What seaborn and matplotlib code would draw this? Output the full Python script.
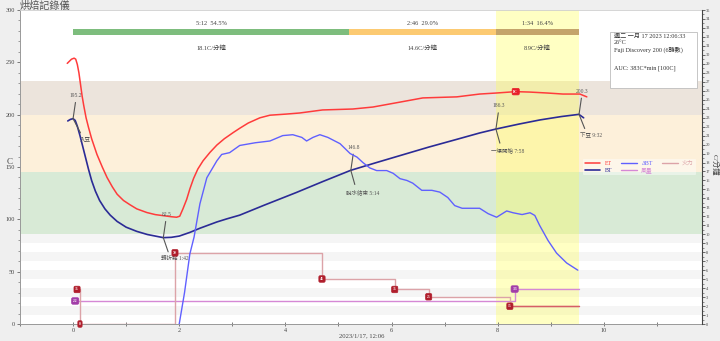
import matplotlib
matplotlib.use("Agg")
import matplotlib.pyplot as plt
import seaborn as sns
from matplotlib.ticker import MultipleLocator
from matplotlib.patches import Rectangle

# ---------------- data ----------------
et_t = [-0.11, -0.07, -0.03, 0.02, 0.05, 0.08, 0.11, 0.14, 0.17, 0.2, 0.245, 0.29, 0.35, 0.45,
        0.55, 0.64, 0.74, 0.83, 0.95, 1.07, 1.2, 1.39, 1.55, 1.7, 1.85, 1.95, 2.01, 2.07, 2.14,
        2.2, 2.27, 2.35, 2.45, 2.58, 2.71, 2.85, 3.02, 3.14, 3.3, 3.52, 3.71, 4.0, 4.27, 4.7,
        5.27, 5.65, 6.16, 6.59, 7.23, 7.66, 7.98, 8.34, 8.6, 8.93, 9.23, 9.55, 9.68]
et = [249, 251, 253, 254, 253, 248, 240, 229, 218, 209, 197, 188, 177, 162,
      150, 140, 131, 124, 118, 114, 110, 106.5, 104.5, 103.5, 102.5, 102, 103, 110, 119,
      129, 139, 148, 156, 164, 171, 177, 183, 187, 192, 197, 199.5, 200.5, 201.6, 204.5,
      205.4, 207.3, 212, 216, 217, 219.7, 220.7, 222, 221.6, 220.7, 219.7, 219.7, 217]

bt_t = [-0.1, -0.05, 0.0, 0.04, 0.08, 0.13, 0.18, 0.23, 0.29, 0.35, 0.42, 0.5, 0.6, 0.7, 0.83,
        1.0, 1.2, 1.4, 1.55, 1.7, 1.85, 2.0, 2.2, 2.39, 2.55, 2.71, 2.9, 3.14, 3.6, 4.2, 4.7,
        5.23, 5.7, 6.2, 6.7, 7.2, 7.66, 7.97, 8.4, 8.8, 9.2, 9.53, 9.62]
bt = [194, 195.5, 196.2, 194.5, 189, 180, 170, 160, 148, 137, 127, 118, 110, 104, 98,
      92.5, 88.5, 85.5, 84, 82.5, 82.8, 84, 87.5, 91.5, 94.5, 97.5, 100.5, 104, 113.5, 125.5,
      136, 146.8, 154, 161.5, 169, 176, 182.5, 186.3, 191, 195, 198.2, 200.3, 197]

ror_t = [2.0, 2.1, 2.2, 2.28, 2.39, 2.52, 2.71, 2.8, 2.95, 3.14, 3.43, 3.71, 3.95, 4.14, 4.31,
         4.4, 4.52, 4.65, 4.8, 5.03, 5.22, 5.35, 5.46, 5.59, 5.72, 5.91, 6.03, 6.16, 6.29, 6.4,
         6.57, 6.76, 6.91, 7.06, 7.19, 7.33, 7.53, 7.66, 7.82, 7.98, 8.17, 8.29, 8.46, 8.61, 8.7,
         8.79, 8.95, 9.11, 9.3, 9.51]
ror = [0, 3.5, 7.8, 9.7, 13.4, 16.3, 18.2, 18.9, 19.1, 19.9, 20.2, 20.4, 21.0, 21.1, 20.8,
       20.4, 20.8, 21.1, 20.8, 20.1, 19.0, 18.6, 18.0, 17.4, 17.1, 17.1, 16.8, 16.2, 16.0, 15.7,
       14.9, 14.9, 14.7, 14.1, 13.2, 12.9, 12.9, 12.9, 12.3, 11.9, 12.6, 12.4, 12.2, 12.4, 12.1,
       11.0, 9.3, 7.9, 6.8, 6.0]

heat_t = [0.075, 0.13, 1.92, 4.69, 6.06, 6.7, 8.23, 9.53]
heat = [33, 0, 68, 43, 33, 26, 17, 17]
heat_box_labels = ["35", "0", "70", "45", "35", "25", "15"]

air_t = [0.04, 8.32, 9.53]
air = [22, 33.4, 33.4]
air_box_labels = ["2.2", "3.3"]

et_mark_t = [8.34]
et_mark_v = [222]
et_mark_labels = ["FC"]

phase_start = [0.0, 5.2, 7.967]
phase_dur = [5.2, 2.767, 1.566]
phase_colors = ["#7dbd7d", "#fcca72", "#c4a46b"]
phase_time_labels = ["5:12  54.5%", "2:46  29.0%", "1:34  16.4%"]
phase_rate_labels = ["18.1C/分鐘", "14.6C/分鐘", "8.9C/分鐘"]

band_low = [200, 145, 85]
band_high = [232, 200, 145]
band_colors = ["#ece4dc", "#fdf0da", "#d8ead6"]
stripe_r = [1, 3, 5, 7, 9]

event_t = [0.0, 1.7, 5.233, 7.967, 9.533]
event_bt = [196.2, 82.5, 146.8, 186.3, 200.3]
event_val_labels = ["195.2", "82.5", "146.8", "186.3", "200.3"]
event_name_labels = ["入豆", "轉折點 1:42", "脫水結束 5:14", "一爆開始 7:58", "下豆 9:32"]

info_lines = ["週二 一月 17 2023 12:06:33", "26°C", "Fuji Discovery 200 (6轉數)", "", "",
              "AUC: 383C*min [100C]"]

# ---------------- style ----------------
sns.set_theme(style="white")
plt.rcParams["font.family"] = ["Liberation Serif", "Noto Sans CJK TC", "DejaVu Sans"]
plt.rcParams["axes.unicode_minus"] = False

fig = plt.figure(figsize=(7.2, 3.41), dpi=100)
fig.patch.set_facecolor("#efefef")
ax = fig.add_axes([20 / 720, 17 / 341, 682 / 720, 314 / 341])
ax.set_facecolor("white")
ax.set_xlim(-1.0, 11.85)
ax.set_ylim(0, 300)

TEMP_PER_ROR = 300 / 35

# background bands
for lo, hi, c in zip(band_low, band_high, band_colors):
    ax.axhspan(lo, hi, color=c, lw=0, zorder=0.1)
for r in stripe_r:
    ax.axhspan(r * TEMP_PER_ROR, (r + 1) * TEMP_PER_ROR, color="#f5f5f5", lw=0, zorder=0.1)

# yellow development span
ax.axvspan(phase_start[2], phase_start[2] + phase_dur[2], color="#ffff55", alpha=0.35, lw=0, zorder=0.2)

# phase bar + texts
ax.barh([279] * 3, phase_dur, left=phase_start, height=5, color=phase_colors, lw=0, zorder=1)
for s, d, tl, rl in zip(phase_start, phase_dur, phase_time_labels, phase_rate_labels):
    ax.text(s + d / 2, 287, tl, ha="center", va="center", fontsize=4.6, color="#444")
    ax.text(s + d / 2, 264, rl, ha="center", va="center", fontsize=4.6, color="#444")

# step lines (air / heat)
sns.lineplot(x=air_t, y=air, ax=ax, color="#d588d5", lw=1.0, drawstyle="steps-post",
             estimator=None, sort=False, zorder=2)
h_air = ax.lines[-1]
sns.lineplot(x=heat_t, y=heat, ax=ax, color="#dca3a8", lw=1.0, drawstyle="steps-post",
             estimator=None, sort=False, zorder=2.1)
h_heat = ax.lines[-1]
sns.lineplot(x=heat_t[-2:], y=heat[-2:], ax=ax, color="#d65f66", lw=1.0, drawstyle="steps-post",
             estimator=None, sort=False, zorder=2.2)

for t, v, lab in zip(heat_t[:-1], heat[:-1], heat_box_labels):
    ax.text(t, v, lab, ha="center", va="center", fontsize=2.6, color="white", fontweight="bold",
            zorder=6, bbox=dict(boxstyle="round,pad=0.35", fc="#b01e2c", ec="#b01e2c", lw=0.5))
for t, v, lab in zip(air_t[:-1], air[:-1], air_box_labels):
    ax.text(t, v, lab, ha="center", va="center", fontsize=2.6, color="white", fontweight="bold",
            zorder=6, bbox=dict(boxstyle="round,pad=0.35", fc="#a23da8", ec="#a23da8", lw=0.5))

# ET & BT
sns.lineplot(x=et_t, y=et, ax=ax, color="#ff3b3b", lw=1.1, estimator=None, zorder=3)
h_et = ax.lines[-1]
sns.lineplot(x=bt_t, y=bt, ax=ax, color="#2b2b96", lw=1.2, estimator=None, zorder=3.1)
h_bt = ax.lines[-1]
for ln in (h_et, h_bt):
    ln.set_solid_joinstyle("round")

for t, v, lab in zip(et_mark_t, et_mark_v, et_mark_labels):
    ax.text(t, v, lab, ha="center", va="center", fontsize=2.6, color="white", fontweight="bold",
            zorder=6, bbox=dict(boxstyle="round,pad=0.35", fc="#e8202a", ec="#e8202a", lw=0.5))

# event annotations
for t, v, vl, nl in zip(event_t, event_bt, event_val_labels, event_name_labels):
    ax.annotate(vl, xy=(t, v), xytext=(2.2, 15), textcoords="offset points", ha="center",
                va="bottom", fontsize=4, color="#555", zorder=5,
                arrowprops=dict(arrowstyle="-", color="#555", lw=0.8, shrinkA=1, shrinkB=0,
                                relpos=(0.5, 0)))
    ax.annotate(nl, xy=(t, v), xytext=(8.6, -13.5), textcoords="offset points", ha="center",
                va="top", fontsize=4, color="#555", zorder=5,
                arrowprops=dict(arrowstyle="-", color="#555", lw=0.8, shrinkA=1, shrinkB=0,
                                relpos=(0.3, 1)))

# info box
ax.add_patch(Rectangle((0.8651, 0.7516), 0.1276, 0.1784, transform=ax.transAxes,
                       fc="white", ec="#bdbdbd", lw=0.6, zorder=6))
ax.text(0.871, 0.925, "\n".join(info_lines), transform=ax.transAxes, ha="left", va="top",
        fontsize=4.4, color="#333", linespacing=1.25, zorder=7)

# axes styling
ax.xaxis.set_major_locator(MultipleLocator(2))
ax.xaxis.set_minor_locator(MultipleLocator(1))
ax.yaxis.set_major_locator(MultipleLocator(50))
ax.yaxis.set_minor_locator(MultipleLocator(10))
ax.tick_params(axis="x", which="both", direction="inout", length=3, width=0.6, color="#666",
               labelsize=4.5, labelcolor="#444", pad=1.5, bottom=True)
ax.tick_params(axis="y", which="major", direction="out", length=2.5, width=0.6, color="#666",
               labelsize=4.5, labelcolor="#444", pad=1.2, left=True)
ax.tick_params(axis="y", which="minor", direction="out", length=1.5, width=0.5, color="#777", left=True)
for s in ["left", "bottom"]:
    ax.spines[s].set_color("#999")
    ax.spines[s].set_linewidth(0.7)
ax.spines["top"].set_color("#cfcfcf")
ax.spines["top"].set_linewidth(0.6)
ax.spines["right"].set_visible(False)
ax.set_xlabel("")
ax.set_ylabel("")

# RoR axis
ax2 = ax.twinx()
ax2.set_ylim(0, 35)
sns.lineplot(x=ror_t, y=ror, ax=ax2, color="#6060ff", lw=1.0, estimator=None, zorder=3)
h_ror = ax2.lines[-1]
h_ror.set_solid_joinstyle("round")
ax2.yaxis.set_major_locator(MultipleLocator(1))
ax2.yaxis.set_minor_locator(MultipleLocator(0.5))
ax2.tick_params(axis="y", which="major", direction="out", length=2.0, width=0.5, color="#333",
                labelsize=3.2, labelcolor="#444", pad=0.5, right=True)
ax2.tick_params(axis="y", which="minor", direction="out", length=1.1, width=0.4, color="#444", right=True)
ax2.spines["right"].set_color("#444")
ax2.spines["right"].set_linewidth(0.8)
for s in ["left", "top", "bottom"]:
    ax2.spines[s].set_visible(False)
ax2.set_ylabel("")
ax2.set_xlabel("")

# legend
handles = [h_et, h_bt, h_ror, h_air, h_heat]
labels = ["ET", "BT", "ΔBT", "風量", "火力"]
leg = ax2.legend(handles, labels, ncol=3, loc="center right", bbox_to_anchor=(0.995, 0.5),
                 fontsize=4.2, frameon=True, framealpha=0.45, edgecolor="none",
                 handlelength=2.6, columnspacing=1.6, labelspacing=0.25, borderpad=0.3,
                 handletextpad=0.8, labelcolor="linecolor")

# titles / labels
fig.text(20 / 720, 1 - 0.5 / 341, "烘焙記錄儀", ha="left", va="top", fontsize=7.3, color="#555")
fig.text(10 / 720, 1 - 162 / 341, "C", ha="center", va="center", fontsize=6.5, color="#444")
fig.text(715.5 / 720, 1 - 165 / 341, "C/分鐘", ha="center", va="center", fontsize=5.3, color="#444",
         rotation=270)
fig.text(362 / 720, 1 - 336 / 341, "2023/1/17, 12:06", ha="center", va="center", fontsize=4.8,
         color="#444")

fig.savefig("out.png", dpi=100, facecolor=fig.get_facecolor())
